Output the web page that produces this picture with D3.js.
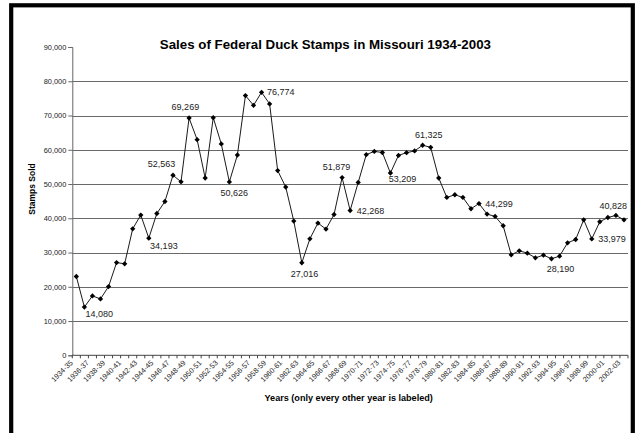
<!DOCTYPE html>
<html>
<head>
<meta charset="utf-8">
<script src="https://cdn.jsdelivr.net/npm/d3@7"></script>
<style>
  html, body { margin: 0; padding: 0; background: #fff; }
  svg { display: block; font-family: Arial, "Liberation Sans", sans-serif; }
</style>
</head>
<body>
<svg id="chart" width="639" height="433"></svg>
<script>
// ---- data ----
const seasons = [
  "1934-35","1935-36","1936-37","1937-38","1938-39","1939-40","1940-41","1941-42","1942-43","1943-44",
  "1944-45","1945-46","1946-47","1947-48","1948-49","1949-50","1950-51","1951-52","1952-53","1953-54",
  "1954-55","1955-56","1956-57","1957-58","1958-59","1959-60","1960-61","1961-62","1962-63","1963-64",
  "1964-65","1965-66","1966-67","1967-68","1968-69","1969-70","1970-71","1971-72","1972-73","1973-74",
  "1974-75","1975-76","1976-77","1977-78","1978-79","1979-80","1980-81","1981-82","1982-83","1983-84",
  "1984-85","1985-86","1986-87","1987-88","1988-89","1989-90","1990-91","1991-92","1992-93","1993-94",
  "1994-95","1995-96","1996-97","1997-98","1998-99","1999-00","2000-01","2001-02","2002-03"
];
const stampsSold = [
  23000, 14080, 17340, 16460, 20060, 27080, 26700, 36930, 40940, 34193,
  41400, 44900, 52563, 50650, 69269, 62950, 51760, 69380, 61700, 50626,
  58480, 75820, 72980, 76774, 73390, 53930, 49120, 39180, 27016, 34000,
  38600, 36840, 41110, 51879, 42268, 50470, 58570, 59530, 59200, 53209,
  58360, 59150, 59650, 61325, 60700, 51755, 46080, 46870, 46080, 42780,
  44299, 41230, 40530, 37810, 29330, 30500, 29825, 28450, 29240, 28190,
  28950, 32840, 33800, 39560, 33979, 38980, 40230, 40828, 39560
];
// seasons whose value is written on the chart
const labeledSeasons = [
  "1935-36","1943-44","1946-47","1948-49","1953-54","1957-58","1962-63","1967-68",
  "1968-69","1973-74","1977-78","1984-85","1993-94","1998-99","2001-02"
];
const yTicks = [0, 10000, 20000, 30000, 40000, 50000, 60000, 70000, 80000, 90000];
const gridValues = [10000, 20000, 30000, 40000, 50000, 60000, 70000, 80000];
const titleText = "Sales of Federal Duck Stamps in Missouri 1934-2003";
const yTitle = "Stamps Sold";
const xTitle = "Years (only every other year is labeled)";

// ---- drawing ----
const svg = d3.select("#chart");
const plot = { left: 72.3, right: 628, top: 47, bottom: 355.3 };

const x = d3.scaleBand().domain(seasons).range([plot.left, plot.right]).padding(0);
const y = d3.scaleLinear().domain([0, 90000]).range([plot.bottom, plot.top]);
const cx = d => x(d) + x.bandwidth() / 2;

// outer frame
svg.append("rect").attr("x", 0).attr("y", 0).attr("width", 639).attr("height", 433).attr("fill", "#fff");
svg.append("rect")
  .attr("x", 11.2).attr("y", 5.3).attr("width", 621.6).attr("height", 460)
  .attr("fill", "none").attr("stroke", "#000").attr("stroke-width", 4.2);

// gridlines
svg.append("g").selectAll("line").data(gridValues).join("line")
  .attr("x1", plot.left).attr("x2", plot.right)
  .attr("y1", d => Math.round(y(d)) + 0.5).attr("y2", d => Math.round(y(d)) + 0.5)
  .attr("stroke", "#6a6a6a").attr("stroke-width", 1);

// y axis
const yAxis = svg.append("g")
  .attr("transform", `translate(${plot.left},0)`)
  .call(d3.axisLeft(y).tickValues(yTicks).tickSize(4).tickPadding(2).tickFormat(d3.format(",")));
yAxis.select(".domain").attr("stroke", "#666");
yAxis.selectAll(".tick line").attr("stroke", "#666");
yAxis.selectAll(".tick text").attr("font-size", 7.4).attr("fill", "#222")
  .attr("font-family", "Arial, 'Liberation Sans', sans-serif");

// x axis line
svg.append("line")
  .attr("x1", plot.left).attr("x2", plot.right)
  .attr("y1", plot.bottom).attr("y2", plot.bottom)
  .attr("stroke", "#444").attr("stroke-width", 1);

// x tick marks at category boundaries
const boundaries = seasons.map(s => x(s)).concat([plot.right]);
svg.append("g").selectAll("line").data(boundaries).join("line")
  .attr("x1", d => d).attr("x2", d => d)
  .attr("y1", plot.bottom).attr("y2", plot.bottom + 3)
  .attr("stroke", "#444").attr("stroke-width", 1);

// x tick labels (every other season)
const xAxis = svg.append("g")
  .attr("transform", `translate(0,${plot.bottom})`)
  .call(d3.axisBottom(x).tickSize(0).tickFormat((d, i) => i % 2 === 0 ? d : ""));
xAxis.select(".domain").remove();
xAxis.selectAll(".tick text")
  .attr("font-size", 7.4).attr("fill", "#222")
  .attr("font-family", "Arial, 'Liberation Sans', sans-serif")
  .attr("text-anchor", "end")
  .attr("y", 0).attr("dy", 0)
  .attr("transform", "translate(-3,8) rotate(-45)");

// line
const line = d3.line().x((d, i) => cx(seasons[i])).y(d => y(d));
svg.append("path").datum(stampsSold)
  .attr("d", line).attr("fill", "none")
  .attr("stroke", "#1a1a1a").attr("stroke-width", 1);

// markers
const sym = d3.symbolDiamond2 || d3.symbolDiamond;
svg.append("g").selectAll("path").data(stampsSold).join("path")
  .attr("transform", (d, i) => `translate(${cx(seasons[i])},${y(d)})`)
  .attr("d", d3.symbol().type(sym).size(18))
  .attr("fill", "#000");

// data labels
const placement = {
  "1935-36": [1, 6.3, "start"],
  "1943-44": [1.3, 7.3, "start"],
  "1946-47": [2.3, -11.3, "end"],
  "1948-49": [-3.7, -11.3, "middle"],
  "1953-54": [4.9, 11, "middle"],
  "1957-58": [5.4, 0, "start"],
  "1962-63": [2.7, 10.6, "middle"],
  "1967-68": [-5.7, -11, "middle"],
  "1968-69": [6.7, 0, "start"],
  "1973-74": [-1.7, 5.7, "start"],
  "1977-78": [6.2, -10.7, "middle"],
  "1984-85": [6.3, 0.7, "start"],
  "1993-94": [9, 10, "middle"],
  "1998-99": [6.4, 0.4, "start"],
  "2001-02": [-2.7, -10, "middle"]
};
const fmt = d3.format(",");
svg.append("g").selectAll("text").data(labeledSeasons).join("text")
  .attr("x", s => cx(s) + placement[s][0])
  .attr("y", s => y(stampsSold[seasons.indexOf(s)]) + placement[s][1])
  .attr("dy", "0.35em")
  .attr("text-anchor", s => placement[s][2])
  .attr("font-size", 9).attr("fill", "#222")
  .text(s => fmt(stampsSold[seasons.indexOf(s)]));

// titles
svg.append("text")
  .attr("x", 325.4).attr("y", 49.3)
  .attr("text-anchor", "middle")
  .attr("font-size", 13.3).attr("font-weight", "bold").attr("fill", "#000")
  .text(titleText);

svg.append("text")
  .attr("transform", "translate(35,189) rotate(-90)")
  .attr("text-anchor", "middle")
  .attr("font-size", 8.5).attr("font-weight", "bold").attr("fill", "#000")
  .text(yTitle);

svg.append("text")
  .attr("x", 348.7).attr("y", 401)
  .attr("text-anchor", "middle")
  .attr("font-size", 9.1).attr("font-weight", "bold").attr("fill", "#000")
  .text(xTitle);
</script>
</body>
</html>
